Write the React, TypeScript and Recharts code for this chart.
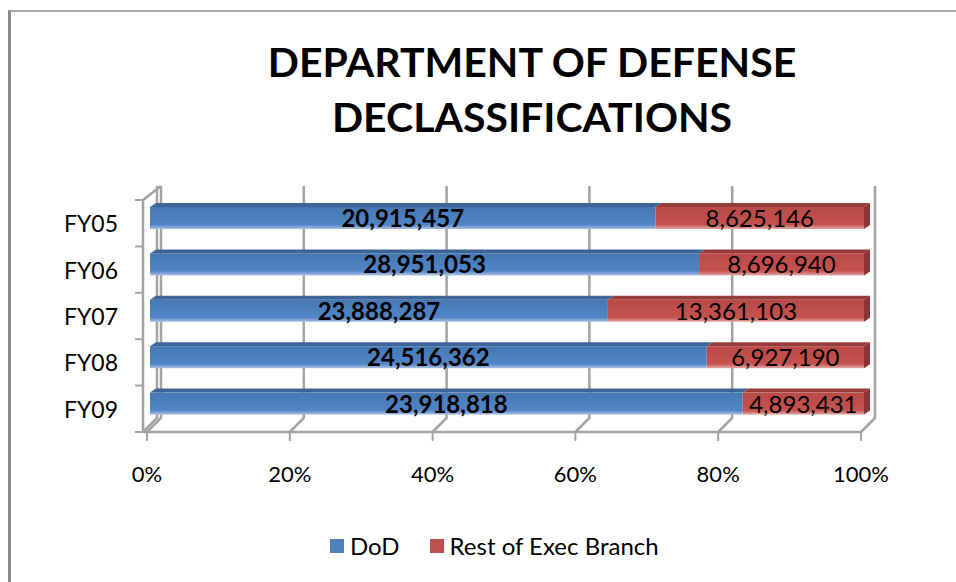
import React from "react";
import {
  BarChart,
  Bar,
  XAxis,
  YAxis,
  CartesianGrid,
  LabelList,
  Legend,
} from "recharts";

const categories = ["FY05", "FY06", "FY07", "FY08", "FY09"];
const dodValues = [20915457, 28951053, 23888287, 24516362, 23918818];
const restValues = [8625146, 8696940, 13361103, 6927190, 4893431];
const xTicks = [0, 0.2, 0.4, 0.6, 0.8, 1];

const FONT = "Lato, 'Open Sans', sans-serif";
const GRID = "#a3a3a3";

// 3D look: bars sit half way into the depth
const SHIFT_X = 3;
const SHIFT_Y = -5;
const DEPTH_X = 6;
const DEPTH_Y = 4;

const data = categories.map((name, i) => ({
  name,
  dod: dodValues[i],
  rest: restValues[i],
}));

const fmt = (v: number) => v.toLocaleString("en-US");

function makeShape(gradId: string, topColor: string, sideColor: string, withSide: boolean) {
  return (props: any) => {
    const { x, y, width, height } = props;
    if (width == null || height == null) return null;
    const X = x + SHIFT_X;
    const Y = y + SHIFT_Y;
    return (
      <g>
        <polygon
          points={`${X},${Y} ${X + width},${Y} ${X + width + DEPTH_X},${Y - DEPTH_Y} ${X + DEPTH_X},${Y - DEPTH_Y}`}
          fill={topColor}
        />
        {withSide && (
          <polygon
            points={`${X + width},${Y} ${X + width + DEPTH_X},${Y - DEPTH_Y} ${X + width + DEPTH_X},${Y + height - DEPTH_Y} ${X + width},${Y + height}`}
            fill={sideColor}
          />
        )}
        <rect x={X} y={Y} width={width} height={height} fill={`url(#${gradId})`} />
      </g>
    );
  };
}

const dodShape = makeShape("gradDod", "#3b6497", "#2f5380", false);
const restShape = makeShape("gradRest", "#963c3a", "#8a3533", true);

function makeLabel(key: "dod" | "rest", bold: boolean) {
  return (props: any) => {
    const { x, y, width, height, value } = props;
    const cx = x + SHIFT_X + width / 2;
    const cy = y + SHIFT_Y + height / 2;
    return (
      <text
        x={cx}
        y={cy + 9}
        textAnchor="middle"
        fontFamily={FONT}
        fontSize={24}
        fontWeight={bold ? 700 : 400}
        fill="#000"
        key={key + x}
      >
        {fmt(Number(value))}
      </text>
    );
  };
}

// back-wall gridline with a slanted foot down to the front floor edge
const gridLine = (props: any) => {
  const { x1, y1, y2, index } = props;
  const bx = x1 + 14;
  const d = `M${bx},${y1 - 14} L${bx},${y2 - 14} L${x1},${y2}`;
  return (
    <g key={`v-${x1}`}>
      <path d={d} stroke={GRID} strokeWidth={2.5} fill="none" />
      {index === 0 && (
        <path d={`M${x1 - 4},${y1} L${bx},${y1 - 14}`} stroke={GRID} strokeWidth={2.5} fill="none" />
      )}
    </g>
  );
};

// y axis tick marks at the category boundaries
const boundaryTick = (props: any) => {
  const { x1, y1 } = props;
  return <line key={`h-${y1}`} x1={x1 - 8} x2={x1} y1={y1} y2={y1} stroke={GRID} strokeWidth={2} />;
};

const YTick = (props: any) => {
  const { y, payload } = props;
  return (
    <text x={118} y={y + 9} textAnchor="end" fontFamily={FONT} fontSize={23} fill="#000">
      {payload.value}
    </text>
  );
};

const LegendContent = () => {
  const items = [
    { label: "DoD", color: "#4f81bd" },
    { label: "Rest of Exec Branch", color: "#c0504d" },
  ];
  return (
    <div style={{ display: "flex", alignItems: "center", paddingLeft: 330, fontFamily: FONT, fontSize: 24 }}>
      {items.map((it) => (
        <div key={it.label} style={{ display: "flex", alignItems: "center", marginRight: 30 }}>
          <span style={{ width: 14, height: 14, background: it.color, marginRight: 6, display: "inline-block" }} />
          <span style={{ color: "#000" }}>{it.label}</span>
        </div>
      ))}
    </div>
  );
};

export default function App() {
  return (
    <div style={{ position: "absolute", left: 0, top: 0, width: 956, height: 582, background: "#fff", overflow: "hidden" }}>
      <div
        style={{
          position: "absolute",
          left: 8,
          top: 10,
          width: 1000,
          height: 700,
          borderLeft: "3px solid #8a8a8a",
          borderTop: "2px solid #a8a8a8",
        }}
      />
      <div
        style={{
          position: "absolute",
          left: 0,
          top: 34,
          width: 1064,
          textAlign: "center",
          fontFamily: FONT,
          fontWeight: 700,
          fontSize: 41,
          lineHeight: "55px",
          color: "#000",
        }}
      >
        DEPARTMENT OF DEFENSE
        <br />
        DECLASSIFICATIONS
      </div>
      <div style={{ position: "absolute", left: 0, top: 0 }}>
        <BarChart
          width={956}
          height={582}
          data={data}
          layout="vertical"
          stackOffset="expand"
          barSize={22}
          margin={{ top: 200, right: 95, bottom: 120, left: 0 }}
          style={{ fontFamily: FONT }}
        >
          <defs>
            <linearGradient id="gradDod" x1="0" y1="0" x2="0" y2="1">
              <stop offset="0%" stopColor="#4677b3" />
              <stop offset="80%" stopColor="#5085c6" />
              <stop offset="100%" stopColor="#a9c1e2" />
            </linearGradient>
            <linearGradient id="gradRest" x1="0" y1="0" x2="0" y2="1">
              <stop offset="0%" stopColor="#b94a47" />
              <stop offset="80%" stopColor="#c4524f" />
              <stop offset="100%" stopColor="#e3a7a5" />
            </linearGradient>
          </defs>
          <CartesianGrid
            vertical={gridLine}
            horizontal={boundaryTick}
            horizontalCoordinatesGenerator={({ offset }: any) =>
              [0, 1, 2, 3, 4, 5].map((i) => offset.top + (i * offset.height) / 5)
            }
          />
          <XAxis
            type="number"
            domain={[0, 1]}
            ticks={xTicks}
            height={30}
            padding={{ left: 4, right: 0 }}
            tickFormatter={(v) => `${Math.round(v * 100)}%`}
            tick={{ fill: "#000", fontSize: 22, fontFamily: FONT }}
            axisLine={{ stroke: GRID, strokeWidth: 2.5 }}
            tickLine={{ stroke: GRID, strokeWidth: 2 }}
            tickSize={9}
            tickMargin={25}
          />
          <YAxis
            type="category"
            dataKey="name"
            width={143}
            axisLine={{ stroke: GRID, strokeWidth: 2.5 }}
            tickLine={false}
            tick={<YTick />}
          />
          <Legend
            layout="horizontal"
            verticalAlign="middle"
            align="center"
            wrapperStyle={{ top: 531, left: 0, width: 956 }}
            content={<LegendContent />}
          />
          <Bar dataKey="dod" name="DoD" stackId="a" fill="#4f81bd" shape={dodShape} isAnimationActive={false}>
            <LabelList dataKey="dod" content={makeLabel("dod", true)} />
          </Bar>
          <Bar dataKey="rest" name="Rest of Exec Branch" stackId="a" fill="#c0504d" shape={restShape} isAnimationActive={false}>
            <LabelList dataKey="rest" content={makeLabel("rest", false)} />
          </Bar>
        </BarChart>
      </div>
    </div>
  );
}
